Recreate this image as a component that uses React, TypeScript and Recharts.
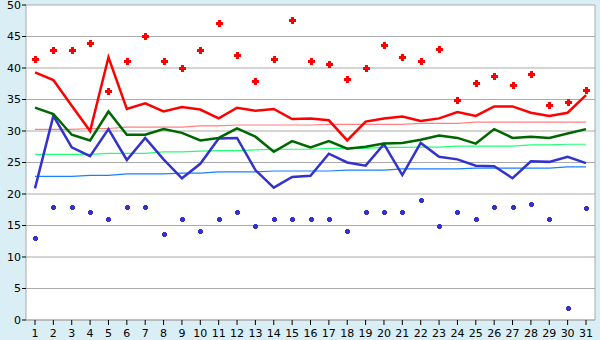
import { ComposedChart, Line, XAxis, YAxis, CartesianGrid } from "recharts";

// days of the month
const days = Array.from({ length: 31 }, (_, i) => String(i + 1));

// red: daily max scatter, mean max line, max trend
const maxPoints = [41.5, 42.8, 42.8, 43.9, 36.3, 41.1, 45.0, 41.1, 40.0, 42.8, 47.1, 42.0, 38.0, 41.5, 47.6, 41.1, 40.6, 38.2, 40.0, 43.6, 41.7, 41.1, 43.0, 35.0, 37.6, 38.8, 37.3, 39.0, 34.1, 34.6, 36.5];
const maxLine = [39.3, 38.1, 34.0, 30.0, 41.7, 33.5, 34.4, 33.1, 33.8, 33.4, 32.0, 33.7, 33.2, 33.5, 31.9, 32.0, 31.7, 28.5, 31.5, 32.0, 32.3, 31.6, 32.0, 33.0, 32.4, 33.9, 33.9, 32.9, 32.4, 32.9, 35.7];
const maxTrend = [30.25, 30.25, 30.25, 30.4, 30.4, 30.6, 30.6, 30.6, 30.6, 30.8, 30.8, 30.95, 30.95, 30.95, 30.95, 30.95, 31.05, 31.05, 31.05, 31.05, 31.05, 31.2, 31.2, 31.2, 31.4, 31.4, 31.4, 31.4, 31.4, 31.4, 31.4];

// green: mean line and mean trend
const meanLine = [33.7, 32.7, 29.4, 28.5, 33.1, 29.4, 29.4, 30.3, 29.7, 28.5, 28.9, 30.4, 29.1, 26.7, 28.4, 27.4, 28.4, 27.2, 27.5, 28.0, 28.1, 28.6, 29.3, 28.9, 28.0, 30.3, 28.9, 29.1, 28.9, 29.6, 30.3];
const meanTrend = [26.3, 26.3, 26.3, 26.3, 26.45, 26.45, 26.45, 26.7, 26.7, 26.8, 26.9, 26.9, 27.0, 27.1, 27.1, 27.1, 27.25, 27.25, 27.25, 27.4, 27.4, 27.45, 27.45, 27.6, 27.6, 27.6, 27.6, 27.8, 27.8, 27.9, 27.9];

// blue: daily min scatter, mean min line, min trend
const minPoints = [13.0, 18.0, 18.0, 17.1, 16.0, 17.9, 17.9, 13.6, 16.0, 14.1, 16.0, 17.1, 15.0, 16.0, 16.0, 16.0, 16.0, 14.1, 17.1, 17.1, 17.1, 19.0, 15.0, 17.1, 16.0, 18.0, 17.9, 18.4, 16.0, 1.9, 17.7];
const minLine = [20.9, 32.4, 27.4, 26.0, 30.3, 25.4, 28.9, 25.5, 22.5, 24.8, 28.8, 28.9, 23.8, 21.0, 22.7, 22.9, 26.4, 25.0, 24.5, 27.9, 23.0, 28.1, 25.9, 25.5, 24.5, 24.4, 22.5, 25.2, 25.1, 25.9, 24.9];
const minTrend = [22.8, 22.8, 22.8, 22.95, 22.95, 23.2, 23.2, 23.2, 23.3, 23.3, 23.5, 23.5, 23.5, 23.65, 23.65, 23.65, 23.65, 23.8, 23.8, 23.8, 24.0, 24.0, 24.0, 24.0, 24.1, 24.1, 24.1, 24.1, 24.1, 24.3, 24.3];

const yTicks = [0, 5, 10, 15, 20, 25, 30, 35, 40, 45, 50];

const data = days.map((d, i) => ({
  day: d,
  maxPoints: maxPoints[i],
  maxLine: maxLine[i],
  maxTrend: maxTrend[i],
  meanLine: meanLine[i],
  meanTrend: meanTrend[i],
  minPoints: minPoints[i],
  minLine: minLine[i],
  minTrend: minTrend[i],
}));

const font = "'DejaVu Sans', sans-serif";

// small plus-shaped marker, r = half arm length
const plusDot = (color: string, r: number) => (props: any) => {
  const { cx, cy, index } = props;
  if (cx == null || cy == null) return <g key={index} />;
  const x = Math.round(cx);
  const y = Math.round(cy);
  return (
    <g key={index}>
      <rect x={x - r} y={y - 1} width={2 * r + 1} height={3} fill={color} />
      <rect x={x - 1} y={y - r} width={3} height={2 * r + 1} fill={color} />
    </g>
  );
};

export default function App() {
  return (
    <div style={{ position: "absolute", left: 0, top: 0, width: 600, height: 340, background: "#d9eef5" }}>
      <ComposedChart width={600} height={340} data={data} margin={{ top: 5, right: 5, left: 0, bottom: 0 }}>
        <CartesianGrid
          fill="#ffffff"
          stroke="#aaaaaa"
          verticalCoordinatesGenerator={({ offset }: any) => [offset.left + offset.width]}
        />
        <XAxis
          dataKey="day"
          height={20}
          interval={0}
          padding={{ left: 9, right: 9 }}
          tickSize={5}
          tickMargin={4}
          axisLine={{ stroke: "#aaaaaa" }}
          tickLine={{ stroke: "#000000" }}
          tick={{ fill: "#000000", fontSize: 11, fontFamily: font }}
        />
        <YAxis
          width={26}
          domain={[0, 50]}
          ticks={yTicks}
          interval={0}
          tickSize={4}
          tickMargin={1}
          axisLine={{ stroke: "#aaaaaa" }}
          tickLine={{ stroke: "#000000" }}
          tick={{ fill: "#000000", fontSize: 11, fontFamily: font }}
        />
        <Line dataKey="maxTrend" type="linear" stroke="#ff8080" strokeWidth={1.2} dot={false} isAnimationActive={false} />
        <Line dataKey="meanTrend" type="linear" stroke="#22ff77" strokeWidth={1.2} dot={false} isAnimationActive={false} />
        <Line dataKey="minTrend" type="linear" stroke="#1a80ff" strokeWidth={1.2} dot={false} isAnimationActive={false} />
        <Line dataKey="minLine" type="linear" stroke="#3333cc" strokeWidth={2.5} dot={false} isAnimationActive={false} />
        <Line dataKey="meanLine" type="linear" stroke="#006600" strokeWidth={2.5} dot={false} isAnimationActive={false} />
        <Line dataKey="maxLine" type="linear" stroke="#ff0000" strokeWidth={2.5} dot={false} isAnimationActive={false} />
        <Line dataKey="maxPoints" stroke="none" dot={plusDot("#ff0000", 3)} activeDot={false} isAnimationActive={false} />
        <Line dataKey="minPoints" stroke="none" dot={plusDot("#3333cc", 2)} activeDot={false} isAnimationActive={false} />
      </ComposedChart>
    </div>
  );
}
